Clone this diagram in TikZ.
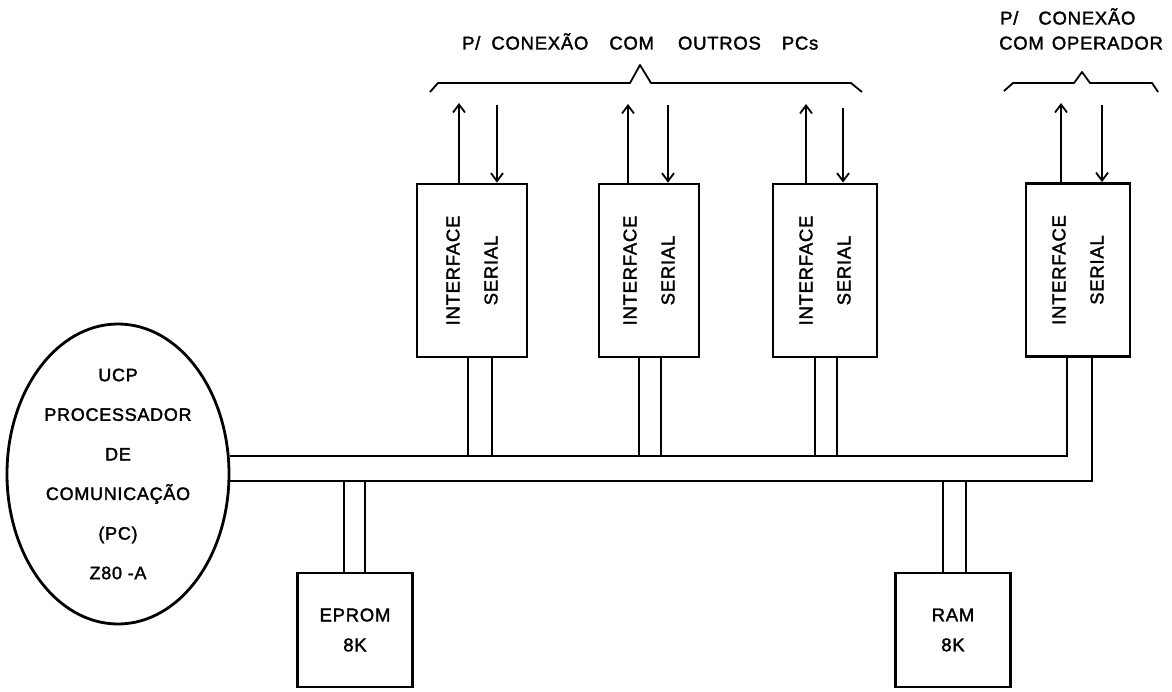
\documentclass[tikz,border=0pt]{standalone}
\usepackage{fontspec}
\setmainfont{Liberation Sans}[LetterSpace=4, FakeBold=1.8]
\usetikzlibrary{arrows.meta,shapes.geometric}

\begin{document}
\begin{tikzpicture}[x=1pt,y=-1pt,
  txt/.style={font=\fontsize{18.5}{21}\selectfont, inner sep=0pt},
  ifbox/.style={draw, line width=2.8pt, minimum height=173pt, inner sep=0pt,
    label={[rotate=90, align=center, font=\fontsize{18.5}{38}\selectfont]center:INTERFACE\\SERIAL}},
  membox/.style={draw, line width=2.8pt, minimum width=115pt, minimum height=114pt,
    inner sep=0pt, align=center, font=\fontsize{18.5}{30}\selectfont},
  bus/.style={line width=1.4pt},
  sig/.style={line width=1.6pt, -{Straight Barb[length=8pt,width=12pt,line width=1.8pt]}},
  bracel/.style={line width=1.8pt, line join=round}
]
\useasboundingbox (0,0) rectangle (1172,692);

% processor
\node[draw, ellipse, line width=2.8pt, minimum width=222pt, minimum height=300pt,
  inner sep=0pt, align=center, font=\fontsize{18}{39.6}\selectfont]
  (ucp) at (118,474) {UCP\\PROCESSADOR\\DE\\COMUNICAÇÃO\\(PC)\\Z80 -A};

% serial interfaces
\node[ifbox, minimum width=110pt] (if1) at (472,270.5) {};
\node[ifbox, minimum width=100pt] (if2) at (649,270.5) {};
\node[ifbox, minimum width=104pt] (if3) at (825,270.5) {};
\node[ifbox, minimum width=104pt] (if4) at (1078,270) {};

% memories
\node[membox] (eprom) at (355,630) {EPROM\\8K};
\node[membox] (ram) at (953,630) {RAM\\8K};

% bus
\coordinate (s4a) at (1067,456);
\coordinate (s4b) at (1092,481);
\draw[bus] (ucp.east |- s4a) -- (s4a) -- (s4a |- if4.south);
\draw[bus] (ucp.east |- s4b) -- (s4b) -- (s4b |- if4.south);

\coordinate (s1a) at (468,456); \coordinate (s1b) at (492,456);
\coordinate (s2a) at (639,456); \coordinate (s2b) at (661,456);
\coordinate (s3a) at (815,456); \coordinate (s3b) at (837,456);
\draw[bus] (s1a) -- (s1a |- if1.south);
\draw[bus] (s1b) -- (s1b |- if1.south);
\draw[bus] (s2a) -- (s2a |- if2.south);
\draw[bus] (s2b) -- (s2b |- if2.south);
\draw[bus] (s3a) -- (s3a |- if3.south);
\draw[bus] (s3b) -- (s3b |- if3.south);

\coordinate (m1a) at (344,481); \coordinate (m1b) at (365,481);
\coordinate (m2a) at (943,481); \coordinate (m2b) at (966,481);
\draw[bus] (m1a) -- (m1a |- eprom.north);
\draw[bus] (m1b) -- (m1b |- eprom.north);
\draw[bus] (m2a) -- (m2a |- ram.north);
\draw[bus] (m2b) -- (m2b |- ram.north);

% signal arrows
\coordinate (o1) at (459,103);  \coordinate (i1) at (497,105);
\coordinate (o2) at (628,104);  \coordinate (i2) at (668,105);
\coordinate (o3) at (806,104);  \coordinate (i3) at (843,108);
\coordinate (o4) at (1061,103); \coordinate (i4) at (1102,105);
\draw[sig] (o1 |- if1.north) -- (o1);
\draw[sig] (i1) -- (i1 |- if1.north);
\draw[sig] (o2 |- if2.north) -- (o2);
\draw[sig] (i2) -- (i2 |- if2.north);
\draw[sig] (o3 |- if3.north) -- (o3);
\draw[sig] (i3) -- (i3 |- if3.north);
\draw[sig] (o4 |- if4.north) -- (o4);
\draw[sig] (i4) -- (i4 |- if4.north);

% braces
\draw[bracel] (430,92) -- (438,83) -- (630,83) -- (640,65) -- (651,83) -- (851,83) -- (862,92);
\draw[bracel] (1004,91) -- (1013,83) -- (1074,83) -- (1082,72) -- (1090,83) -- (1152,83) -- (1158,92);

% captions
\node[txt, anchor=base west] (cap1) at (462,49.5)
  {P/\hspace{11pt}CONEXÃO\hspace{21pt}COM\hspace{24pt}OUTROS\hspace{21pt}PCs};
\node[txt, anchor=base west] (cap2) at (1000,24.5) {P/\hspace{20pt}CONEXÃO};
\node[txt, anchor=base west] (cap3) at (999,49.5) {COM\hspace{8pt}OPERADOR};
\end{tikzpicture}
\end{document}
